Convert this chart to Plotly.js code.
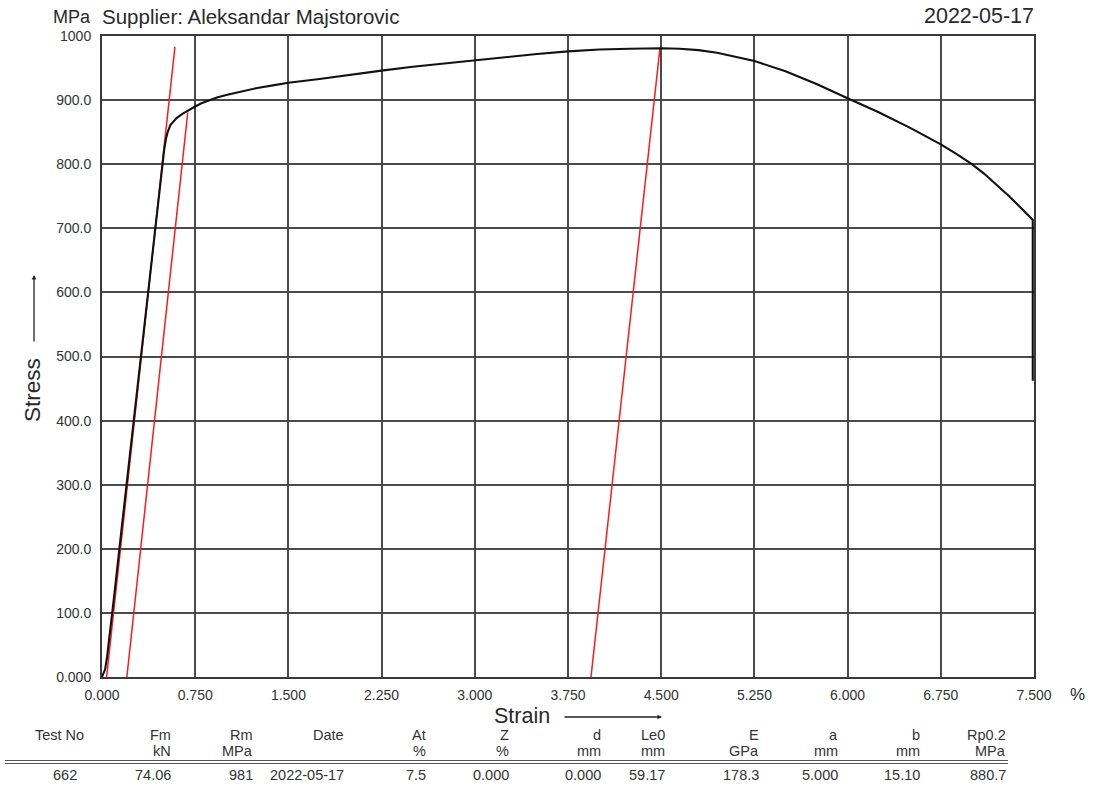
<!DOCTYPE html>
<html>
<head>
<meta charset="utf-8">
<script src="https://cdn.plot.ly/plotly-3.0.1.min.js"></script>
<style>
  html, body { margin: 0; padding: 0; background: #ffffff; }
  #chart { width: 1094px; height: 792px; }
</style>
</head>
<body>
<div id="chart"></div>
<script>
// Tensile test record: stress-strain curve, modulus/offset construction lines, result table.

// Measured curve (strain %, stress MPa)
const strain = [0.000, 0.010, 0.025, 0.040, 0.060, 0.100, 0.150, 0.200, 0.250, 0.300,
  0.350, 0.400, 0.430, 0.450, 0.470, 0.485, 0.500, 0.515, 0.530, 0.550, 0.575, 0.600,
  0.650, 0.700, 0.750, 0.800, 0.850, 0.925, 1.000, 1.125, 1.250, 1.375, 1.500, 1.750,
  2.000, 2.250, 2.500, 2.750, 3.000, 3.250, 3.500, 3.750, 4.000, 4.250, 4.500, 4.650,
  4.800, 4.950, 5.100, 5.250, 5.500, 5.750, 6.000, 6.250, 6.500, 6.750, 6.875, 7.000,
  7.100, 7.200, 7.300, 7.400, 7.490, 7.490];
const stress = [0, 4, 12, 30, 62, 130, 218, 305, 392, 480,
  568, 655, 708, 745, 778, 800, 822, 840, 851, 861, 867, 872,
  879, 885, 890, 895, 899, 904, 908, 914, 919, 923, 927, 933,
  940, 946, 952, 957, 963, 968, 972, 976, 979, 980, 981, 980,
  978, 974, 968, 961, 945, 925, 903, 881, 857, 831, 816, 800,
  785, 768, 750, 731, 713, 462];

// Construction lines (strain %, stress MPa)
const modulusStrain = [0.037, 0.587];
const modulusStress = [0, 983];
const offsetStrain = [0.200, 0.690];
const offsetStress = [0, 880.7];
const unloadStrain = [3.935, 4.490];
const unloadStress = [0, 981];

// Axis ticks
const xTickVals = [0, 0.75, 1.5, 2.25, 3.0, 3.75, 4.5, 5.25, 6.0, 6.75, 7.5];
const xTickText = ['0.000', '0.750', '1.500', '2.250', '3.000', '3.750', '4.500', '5.250', '6.000', '6.750', '7.500'];
const yTickVals = [0, 100, 200, 300, 400, 500, 600, 700, 800, 900, 1000];
const yTickText = ['0.000', '100.0', '200.0', '300.0', '400.0', '500.0', '600.0', '700.0', '800.0', '900.0', '1000'];

// Result table
const tableHeads = ['Test No', 'Fm', 'Rm', 'Date', 'At', 'Z', 'd', 'Le0', 'E', 'a', 'b', 'Rp0.2'];
const tableUnits = ['', 'kN', 'MPa', '', '%', '%', 'mm', 'mm', 'GPa', 'mm', 'mm', 'MPa'];
const tableValues = ['662', '74.06', '981', '2022-05-17', '7.5', '0.000', '0.000', '59.17', '178.3', '5.000', '15.10', '880.7'];

// Column right edges in page pixels
const colRight = [86, 173, 255, 346, 428, 511, 603, 667, 761, 840, 922, 1008];
const valueRight = [79, 173, 255, 346, 428, 511, 603, 667, 761, 840, 922, 1008];

const W = 1094, H = 792;
const M = { l: 102, r: 60, t: 36, b: 115 };
const PW = W - M.l - M.r, PH = H - M.t - M.b;
const px = x => (x - M.l) / PW;          // page x -> paper x
const py = y => (H - M.b - y) / PH;      // page y -> paper y

const FONT = 'Liberation Sans, Arial, sans-serif';
const TXT = '#2a2a2a';

const traces = [
  { x: modulusStrain, y: modulusStress, mode: 'lines', line: { color: '#ff1a1a', width: 1.5 }, hoverinfo: 'skip' },
  { x: offsetStrain, y: offsetStress, mode: 'lines', line: { color: '#ff1a1a', width: 1.5 }, hoverinfo: 'skip' },
  { x: unloadStrain, y: unloadStress, mode: 'lines', line: { color: '#ff1a1a', width: 1.5 }, hoverinfo: 'skip' },
  { x: strain, y: stress, mode: 'lines', line: { color: '#111111', width: 2.1 }, hoverinfo: 'skip' }
];

const annotations = [
  { text: 'MPa', x: px(93), y: py(17), xanchor: 'right', yanchor: 'middle', font: { size: 18, color: TXT } },
  { text: 'Supplier: Aleksandar Majstorovic', x: px(100), y: py(16), xanchor: 'left', yanchor: 'middle', font: { size: 20.5, color: TXT } },
  { text: '2022-05-17', x: px(1036), y: py(16), xanchor: 'right', yanchor: 'middle', font: { size: 21.5, color: TXT } },
  { text: '%', x: px(1068), y: py(694), xanchor: 'left', yanchor: 'middle', font: { size: 17, color: TXT } },
  { text: 'Strain', x: px(522), y: py(716), xanchor: 'center', yanchor: 'middle', font: { size: 21.5, color: TXT } },
  { text: 'Stress', x: px(33), y: py(390), xanchor: 'center', yanchor: 'middle', textangle: -90, font: { size: 22.5, color: TXT } },
  // direction arrows
  { text: '', x: px(662), y: py(717), ax: 563 - 662, ay: 0, showarrow: true, arrowhead: 2, arrowsize: 0.7, arrowwidth: 1.3, arrowcolor: '#222' },
  { text: '', x: px(34), y: py(275), ax: 0, ay: 343 - 275, showarrow: true, arrowhead: 2, arrowsize: 0.7, arrowwidth: 1.3, arrowcolor: '#222' }
];

const tf = { size: 14.5, color: '#333' };
tableHeads.forEach((h, i) => {
  annotations.push({ text: h, x: px(colRight[i]), y: py(735), xanchor: 'right', yanchor: 'middle', font: tf });
  if (tableUnits[i]) {
    annotations.push({ text: tableUnits[i], x: px(colRight[i]), y: py(751), xanchor: 'right', yanchor: 'middle', font: tf });
  }
  annotations.push({ text: tableValues[i], x: px(valueRight[i]), y: py(775), xanchor: 'right', yanchor: 'middle', font: tf });
});
annotations.forEach(a => { a.xref = 'paper'; a.yref = 'paper'; if (!a.showarrow) a.showarrow = false; });

const shapes = [
  { type: 'line', xref: 'paper', yref: 'paper', x0: px(5), x1: px(1008), y0: py(760.5), y1: py(760.5), line: { color: '#555', width: 1.2 } },
  { type: 'line', xref: 'paper', yref: 'paper', x0: px(5), x1: px(1008), y0: py(763.5), y1: py(763.5), line: { color: '#555', width: 1.2 } }
];

const axisCommon = {
  showgrid: true, gridcolor: '#4a4a4a', gridwidth: 2,
  showline: true, linecolor: '#3a3a3a', linewidth: 2, mirror: true,
  zeroline: false, ticks: '', fixedrange: true,
  tickfont: { family: FONT, size: 14, color: '#333' }
};

const layout = {
  width: W, height: H,
  margin: M,
  paper_bgcolor: '#ffffff', plot_bgcolor: '#ffffff',
  showlegend: false,
  font: { family: FONT, color: TXT },
  xaxis: Object.assign({}, axisCommon, { range: [0, 7.5], tickmode: 'array', tickvals: xTickVals, ticktext: xTickText, ticklabelstandoff: 4 }),
  yaxis: Object.assign({}, axisCommon, { range: [0, 1000], tickmode: 'array', tickvals: yTickVals, ticktext: yTickText, ticklabelstandoff: 6 }),
  annotations: annotations,
  shapes: shapes
};

Plotly.newPlot('chart', traces, layout, { displayModeBar: false, staticPlot: true });
</script>
</body>
</html>
